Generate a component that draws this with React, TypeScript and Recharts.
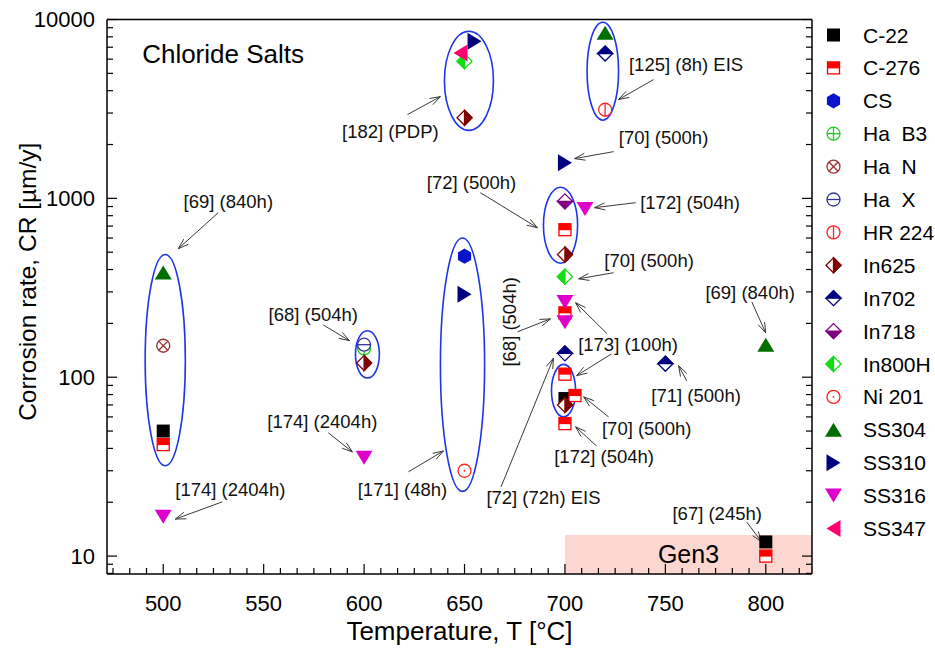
import React from "react";
import {
  ScatterChart,
  Scatter,
  XAxis,
  YAxis,
  ReferenceArea,
  ReferenceLine,
  ReferenceDot,
  Label,
} from "recharts";

const FONT = "'Liberation Sans', Arial, Helvetica, sans-serif";

// axis setup
const X_DOMAIN: [number, number] = [472, 823];
const Y_DOMAIN: [number, number] = [7.94, 10000];
const xMajorTicks = [500, 550, 600, 650, 700, 750, 800];
const yMajorTicks = [10, 100, 1000, 10000];

// corrosion rate data (t in °C, cr in µm/y)
const c22 = [{ t: 500, cr: 50 }, { t: 700, cr: 76 }, { t: 800, cr: 12 }];
const c276 = [
  { t: 500, cr: 42 }, { t: 700, cr: 668 }, { t: 700, cr: 229 }, { t: 700, cr: 104 },
  { t: 705, cr: 79 }, { t: 700, cr: 55 }, { t: 800, cr: 10 },
];
const cs = [{ t: 650, cr: 475 }];
const haB3 = [{ t: 600, cr: 145 }];
const haN = [{ t: 500, cr: 150 }];
const haX = [{ t: 600, cr: 152 }];
const hr224 = [{ t: 720, cr: 3130 }];
const in625 = [{ t: 650, cr: 2820 }, { t: 600, cr: 120 }, { t: 700, cr: 485 }, { t: 700, cr: 70 }];
const in702 = [{ t: 720, cr: 6450 }, { t: 700, cr: 136 }, { t: 750, cr: 119 }];
const in718 = [{ t: 700, cr: 962 }];
const in800h = [{ t: 650, cr: 5850 }, { t: 700, cr: 365 }];
const ni201 = [{ t: 650, cr: 30 }];
const ss304 = [{ t: 500, cr: 385 }, { t: 720, cr: 8420 }, { t: 800, cr: 152 }];
const ss310 = [{ t: 655, cr: 7550 }, { t: 650, cr: 291 }, { t: 700, cr: 1580 }];
const ss316 = [{ t: 500, cr: 16.6 }, { t: 600, cr: 35.5 }, { t: 700, cr: 263 }, { t: 700, cr: 203 }, { t: 710, cr: 872 }];
const ss347 = [{ t: 648, cr: 6500 }];

// grouping ellipses (data bounds)
const groups = [
  { t1: 491, t2: 511, cr1: 32, cr2: 485 },
  { t1: 595.7, t2: 607.6, cr1: 99, cr2: 182 },
  { t1: 638, t2: 660, cr1: 23, cr2: 600 },
  { t1: 640, t2: 664.4, cr1: 2400, cr2: 8600 },
  { t1: 711, t2: 726.7, cr1: 2735, cr2: 9660 },
  { t1: 689.3, t2: 706.3, cr1: 434, cr2: 1153 },
  { t1: 693.3, t2: 705.3, cr1: 60, cr2: 118 },
];

// Gen3 band
const gen3 = { t1: 700, t2: 823, cr1: 7.94, cr2: 13.1 };

// reference labels (text centre, data coords)
const notes = [
  { text: "[69] (840h)", t: 532.4, cr: 958 },
  { text: "[182] (PDP)", t: 613.1, cr: 2361 },
  { text: "[125] (8h) EIS", t: 760.3, cr: 5601 },
  { text: "[70] (500h)", t: 749.1, cr: 2186 },
  { text: "[72] (500h)", t: 653.5, cr: 1224 },
  { text: "[172] (504h)", t: 762.3, cr: 946 },
  { text: "[68] (504h)", t: 574.7, cr: 226 },
  { text: "[174] (2404h)", t: 579.2, cr: 57 },
  { text: "[174] (2404h)", t: 533.4, cr: 23.7 },
  { text: "[171] (48h)", t: 619.1, cr: 23.7 },
  { text: "[70] (500h)", t: 741.9, cr: 448 },
  { text: "[69] (840h)", t: 792.2, cr: 297 },
  { text: "[68] (504h)", t: 672.4, cr: 204, vertical: true },
  { text: "[173] (100h)", t: 731.4, cr: 152 },
  { text: "[71] (500h)", t: 765.3, cr: 79.7 },
  { text: "[70] (500h)", t: 740.7, cr: 52.1 },
  { text: "[172] (504h)", t: 719.5, cr: 35.9 },
  { text: "[72] (72h) EIS", t: 689.3, cr: 21.4 },
  { text: "[67] (245h)", t: 775.8, cr: 17.4 },
];

// arrows: from -> to (data coords)
const arrows = [
  { t1: 527.4, cr1: 832, t2: 507.5, cr2: 523 },
  { t1: 621.6, cr1: 2940, t2: 638.0, cr2: 3707 },
  { t1: 744.1, cr1: 4614, t2: 726.7, cr2: 3567 },
  { t1: 724.2, cr1: 1825, t2: 704.8, cr2: 1668 },
  { t1: 657.9, cr1: 1076, t2: 686.3, cr2: 685 },
  { t1: 735.2, cr1: 946, t2: 714.7, cr2: 887 },
  { t1: 579.7, cr1: 196, t2: 592.7, cr2: 160 },
  { t1: 582.2, cr1: 48.9, t2: 594.2, cr2: 38.2 },
  { t1: 529.4, cr1: 20.1, t2: 506.0, cr2: 16.1 },
  { t1: 622.1, cr1: 29.6, t2: 639.5, cr2: 38.7 },
  { t1: 724.2, cr1: 384, t2: 706.8, cr2: 355 },
  { t1: 793.0, cr1: 264, t2: 799.95, cr2: 177 },
  { t1: 676.4, cr1: 179.5, t2: 692.8, cr2: 212 },
  { t1: 721.0, cr1: 175, t2: 705.3, cr2: 261 },
  { t1: 723.2, cr1: 135, t2: 705.8, cr2: 102 },
  { t1: 760.6, cr1: 95.5, t2: 756.6, cr2: 116 },
  { t1: 721.7, cr1: 60, t2: 709.3, cr2: 77.7 },
  { t1: 715.7, cr1: 41.3, t2: 705.3, cr2: 52.8 },
  { t1: 668.2, cr1: 24.4, t2: 694.3, cr2: 128 },
  { t1: 790.5, cr1: 15.5, t2: 797.96, cr2: 12.0 },
];

const series = [
  { name: "C-22", data: c22, kind: "square", color: "#000000" },
  { name: "C-276", data: c276, kind: "halfSquare", color: "#ff0000" },
  { name: "CS", data: cs, kind: "hexagon", color: "#0a14c8" },
  { name: "Ha  B3", data: haB3, kind: "circlePlus", color: "#22cc22" },
  { name: "Ha  N", data: haN, kind: "circleCross", color: "#993333" },
  { name: "Ha  X", data: haX, kind: "circleMinus", color: "#333399" },
  { name: "HR 224", data: hr224, kind: "circleBar", color: "#ff2020" },
  { name: "In625", data: in625, kind: "diamondRight", color: "#800000" },
  { name: "In702", data: in702, kind: "diamondTop", color: "#000080" },
  { name: "In718", data: in718, kind: "diamondBottom", color: "#800080" },
  { name: "In800H", data: in800h, kind: "diamondLeft", color: "#11dd11" },
  { name: "Ni 201", data: ni201, kind: "circleDot", color: "#ff2020" },
  { name: "SS304", data: ss304, kind: "triUp", color: "#006e00" },
  { name: "SS310", data: ss310, kind: "triRight", color: "#000080" },
  { name: "SS316", data: ss316, kind: "triDown", color: "#e000cc" },
  { name: "SS347", data: ss347, kind: "triLeft", color: "#ff0070" },
];

// ticks: 5 minor ticks between majors on x, 2..9 on the log axis
const xTicks: number[] = [];
for (let k = -6; k <= 40; k++) {
  const v = Math.round((500 + (k * 50) / 6) * 1000) / 1000;
  if (v >= X_DOMAIN[0] && v <= X_DOMAIN[1]) xTicks.push(v);
}
const yTicks: number[] = [];
[1, 10, 100, 1000].forEach((d) => {
  for (let m = 1; m <= 9; m++) {
    const v = m * d;
    if (v >= Y_DOMAIN[0] && v <= Y_DOMAIN[1]) yTicks.push(v);
  }
});
yTicks.push(10000);

const isMajorX = (v: number) => xMajorTicks.some((m) => Math.abs(m - v) < 0.01);
const isMajorY = (v: number) => yMajorTicks.some((m) => Math.abs(m - v) < 0.001);

const MAJOR_LEN = 10;
const MINOR_LEN = 6;

function Marker({ kind, color, cx, cy }: any) {
  if (cx == null || cy == null) return null;
  const sw = 1.3;
  const r = 7.5;
  const dPts = `${cx},${cy - r} ${cx + r},${cy} ${cx},${cy + r} ${cx - r},${cy}`;
  switch (kind) {
    case "square":
      return <rect x={cx - 6.5} y={cy - 6.5} width={13} height={13} fill={color} />;
    case "halfSquare":
      return (
        <g>
          <rect x={cx - 6} y={cy - 6} width={12} height={12} fill="#fff" stroke={color} strokeWidth={sw} />
          <rect x={cx - 6} y={cy - 6} width={12} height={6.5} fill={color} />
        </g>
      );
    case "hexagon": {
      const pts = [0, 1, 2, 3, 4, 5]
        .map((i) => {
          const a = (Math.PI / 3) * i - Math.PI / 2;
          return `${cx + 7.6 * Math.cos(a)},${cy + 7.6 * Math.sin(a)}`;
        })
        .join(" ");
      return <polygon points={pts} fill={color} />;
    }
    case "circlePlus":
    case "circleCross":
    case "circleMinus":
    case "circleBar":
    case "circleDot": {
      const c = 6.5;
      const k = c * 0.707;
      return (
        <g fill="none" stroke={color} strokeWidth={sw}>
          <circle cx={cx} cy={cy} r={c} fill="#fff" />
          {(kind === "circlePlus" || kind === "circleMinus") && <line x1={cx - c} x2={cx + c} y1={cy} y2={cy} />}
          {(kind === "circlePlus" || kind === "circleBar") && <line x1={cx} x2={cx} y1={cy - c} y2={cy + c} />}
          {kind === "circleCross" && (
            <>
              <line x1={cx - k} y1={cy - k} x2={cx + k} y2={cy + k} />
              <line x1={cx - k} y1={cy + k} x2={cx + k} y2={cy - k} />
            </>
          )}
          {kind === "circleDot" && <circle cx={cx} cy={cy} r={0.9} fill={color} stroke="none" />}
        </g>
      );
    }
    case "diamondRight":
    case "diamondTop":
    case "diamondBottom":
    case "diamondLeft": {
      const half: Record<string, string> = {
        diamondRight: `${cx},${cy - r} ${cx + r},${cy} ${cx},${cy + r}`,
        diamondLeft: `${cx},${cy - r} ${cx - r},${cy} ${cx},${cy + r}`,
        diamondTop: `${cx - r},${cy} ${cx},${cy - r} ${cx + r},${cy}`,
        diamondBottom: `${cx - r},${cy} ${cx},${cy + r} ${cx + r},${cy}`,
      };
      return (
        <g>
          <polygon points={dPts} fill="#fff" stroke={color} strokeWidth={sw} />
          <polygon points={half[kind]} fill={color} stroke={color} strokeWidth={sw} />
        </g>
      );
    }
    case "triUp":
      return <polygon points={`${cx},${cy - 7} ${cx + 8.5},${cy + 7} ${cx - 8.5},${cy + 7}`} fill={color} />;
    case "triDown":
      return <polygon points={`${cx - 8.5},${cy - 7} ${cx + 8.5},${cy - 7} ${cx},${cy + 7}`} fill={color} />;
    case "triRight":
      return <polygon points={`${cx - 7},${cy - 8.5} ${cx + 7},${cy} ${cx - 7},${cy + 8.5}`} fill={color} />;
    case "triLeft":
      return <polygon points={`${cx + 7},${cy - 8.5} ${cx - 7},${cy} ${cx + 7},${cy + 8.5}`} fill={color} />;
    default:
      return null;
  }
}

const renderXTick = (side: "bottom" | "top") => (props: any) => {
  const { x, y, payload } = props;
  const v = payload.value;
  const major = isMajorX(v);
  const len = major ? MAJOR_LEN : MINOR_LEN;
  const d = side === "bottom" ? -1 : 1;
  return (
    <g>
      <line x1={x} x2={x} y1={y} y2={y + d * len} stroke="#000" strokeWidth={1.2} />
      {side === "bottom" && major && (
        <text x={x} y={y + 37} textAnchor="middle" fontSize={22} fontFamily={FONT} fill="#000">
          {v}
        </text>
      )}
    </g>
  );
};

const renderYTick = (side: "left" | "right") => (props: any) => {
  const { x, y, payload } = props;
  const v = payload.value;
  const major = isMajorY(v);
  const len = major ? MAJOR_LEN : MINOR_LEN;
  const d = side === "left" ? 1 : -1;
  return (
    <g>
      <line x1={x} x2={x + d * len} y1={y} y2={y} stroke="#000" strokeWidth={1.2} />
      {side === "left" && major && (
        <text x={x - 12} y={y} dy="0.36em" textAnchor="end" fontSize={22} fontFamily={FONT} fill="#000">
          {v}
        </text>
      )}
    </g>
  );
};

const Arrow = (props: any) => {
  const { x1, y1, x2, y2 } = props;
  if ([x1, y1, x2, y2].some((n) => n == null || isNaN(n))) return null;
  const ang = Math.atan2(y2 - y1, x2 - x1);
  const L = 11;
  const a = 0.32;
  const p1 = `${x2 - L * Math.cos(ang - a)},${y2 - L * Math.sin(ang - a)}`;
  const p2 = `${x2 - L * Math.cos(ang + a)},${y2 - L * Math.sin(ang + a)}`;
  return (
    <g stroke="#3a3a3a" strokeWidth={1} fill="none">
      <line x1={x1} y1={y1} x2={x2} y2={y2} />
      <polyline points={`${p1} ${x2},${y2} ${p2}`} />
    </g>
  );
};

const Ellipse = (props: any) => {
  const { x, y, width, height } = props;
  if (x == null || width == null) return null;
  return (
    <ellipse
      cx={x + width / 2}
      cy={y + height / 2}
      rx={Math.abs(width) / 2}
      ry={Math.abs(height) / 2}
      fill="none"
      stroke="#1f35e8"
      strokeWidth={1.6}
    />
  );
};

function ChartLegend() {
  return (
    <svg width={115} height={560} style={{ position: "absolute", left: 820, top: 0 }}>
      {series.map((s, i) => {
        const cy = 35 + i * 32.9;
        return (
          <g key={s.name}>
            <Marker kind={s.kind} color={s.color} cx={13.5} cy={cy} />
            <text
              x={43}
              y={cy}
              dy="0.36em"
              fontSize={21}
              fontFamily={FONT}
              fill="#000"
              style={{ whiteSpace: "pre" }}
            >
              {s.name}
            </text>
          </g>
        );
      })}
    </svg>
  );
}

export default function App() {
  return (
    <div style={{ position: "absolute", left: 0, top: 0, width: 935, height: 650, background: "#fff" }}>
      <ScatterChart width={935} height={650} margin={{ top: 18.5, right: 122, bottom: 0, left: 0 }}>
        <XAxis
          xAxisId={0}
          dataKey="t"
          type="number"
          domain={X_DOMAIN}
          allowDataOverflow
          ticks={xTicks}
          interval={0}
          tickSize={0}
          tickMargin={0}
          tickLine={false}
          axisLine={{ stroke: "#000", strokeWidth: 1.5 }}
          tick={renderXTick("bottom")}
          height={76}
        >
          <Label
            content={({ viewBox }: any) => (
              <text
                x={viewBox.x + viewBox.width / 2}
                y={viewBox.y + 66}
                textAnchor="middle"
                fontSize={26}
                fontFamily={FONT}
                fill="#000"
              >
                Temperature, T [°C]
              </text>
            )}
          />
        </XAxis>
        <XAxis
          xAxisId="top"
          orientation="top"
          type="number"
          domain={X_DOMAIN}
          allowDataOverflow
          ticks={xTicks}
          interval={0}
          tickSize={0}
          tickMargin={0}
          tickLine={false}
          axisLine={{ stroke: "#000", strokeWidth: 1.5 }}
          tick={renderXTick("top")}
          height={1}
        />
        <YAxis
          yAxisId={0}
          dataKey="cr"
          type="number"
          scale="log"
          domain={Y_DOMAIN}
          allowDataOverflow
          ticks={yTicks}
          interval={0}
          tickSize={0}
          tickMargin={0}
          tickLine={false}
          axisLine={{ stroke: "#000", strokeWidth: 1.5 }}
          tick={renderYTick("left")}
          width={107}
        >
          <Label
            content={({ viewBox }: any) => {
              const cx = 27;
              const cy = viewBox.y + viewBox.height / 2 - 15;
              return (
                <text
                  x={cx}
                  y={cy}
                  textAnchor="middle"
                  dy="0.36em"
                  transform={`rotate(-90 ${cx} ${cy})`}
                  fontSize={24.5}
                  fontFamily={FONT}
                  fill="#000"
                >
                  Corrosion rate, CR [µm/y]
                </text>
              );
            }}
          />
        </YAxis>
        <YAxis
          yAxisId="right"
          orientation="right"
          type="number"
          scale="log"
          domain={Y_DOMAIN}
          allowDataOverflow
          ticks={yTicks}
          interval={0}
          tickSize={0}
          tickMargin={0}
          tickLine={false}
          axisLine={{ stroke: "#000", strokeWidth: 1.5 }}
          tick={renderYTick("right")}
          width={1}
        />

        <ReferenceArea
          x1={gen3.t1}
          x2={gen3.t2}
          y1={gen3.cr1}
          y2={gen3.cr2}
          fill="#fcd6d1"
          fillOpacity={1}
          stroke="none"
          ifOverflow="extendDomain"
          label={{ value: "Gen3", position: "center", fontSize: 25, fontFamily: FONT, fill: "#000" }}
        />

        {groups.map((g, i) => (
          <ReferenceArea key={"g" + i} x1={g.t1} x2={g.t2} y1={g.cr1} y2={g.cr2} shape={Ellipse} />
        ))}

        {arrows.map((a, i) => (
          <ReferenceLine
            key={"a" + i}
            segment={[
              { x: a.t1, y: a.cr1 },
              { x: a.t2, y: a.cr2 },
            ]}
            shape={Arrow}
          />
        ))}

        {series.map((s) => (
          <Scatter
            key={s.name}
            name={s.name}
            data={s.data}
            dataKey="cr"
            isAnimationActive={false}
            shape={(p: any) => <Marker kind={s.kind} color={s.color} cx={p.cx} cy={p.cy} />}
          />
        ))}

        {notes.map((n, i) => (
          <ReferenceDot
            key={"n" + i}
            x={n.t}
            y={n.cr}
            r={0}
            shape={(p: any) => (
              <text
                x={p.cx}
                y={p.cy}
                dy="0.36em"
                textAnchor="middle"
                fontSize={18.5}
                fontFamily={FONT}
                fill="#111"
                transform={n.vertical ? `rotate(-90 ${p.cx} ${p.cy})` : undefined}
              >
                {n.text}
              </text>
            )}
          />
        ))}
        <ReferenceDot
          x={489.5}
          y={6457}
          r={0}
          shape={(p: any) => (
            <text x={p.cx} y={p.cy} dy="0.36em" fontSize={26} fontFamily={FONT} fill="#000">
              Chloride Salts
            </text>
          )}
        />
      </ScatterChart>
      <ChartLegend />
    </div>
  );
}
